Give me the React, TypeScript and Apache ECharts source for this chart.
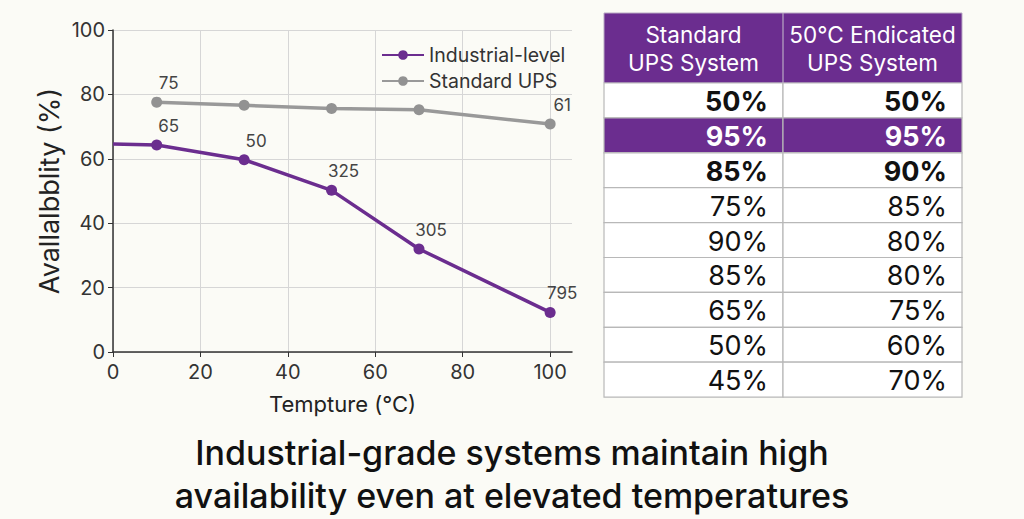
import React, { useEffect, useRef } from "react";
import * as echarts from "echarts";

const xTicks = [0, 20, 40, 60, 80, 100];
const industrialX = [0, 10, 30, 50, 70, 100];
const industrialY = [64.6, 64.3, 59.7, 50.2, 32.0, 12.3];
const industrialLabels = ["", "65", "50", "325", "305", "795"];
const standardX = [10, 30, 50, 70, 100];
const standardY = [77.6, 76.6, 75.6, 75.2, 70.8];
const standardLabels = ["75", "", "", "", "61"];

const tableHeaders = ["Standard\nUPS System", "50°C Endicated\nUPS System"];
const standardCol = ["50%", "95%", "85%", "75%", "90%", "85%", "65%", "50%", "45%"];
const endicatedCol = ["50%", "95%", "90%", "85%", "80%", "80%", "75%", "60%", "70%"];
const boldRows = [0, 1, 2];
const highlightRows = [1];

const titleLines = [
  "Industrial-grade systems maintain high",
  "availability even at elevated temperatures",
];

const PURPLE = "#6b2d8f";
const GRAY = "#999999";
const FONT = "Inter, 'Noto Sans', sans-serif";

function buildTable() {
  const left = 604;
  const top = 13;
  const colW = 179;
  const headH = 70;
  const rowH = 34.9;
  const els: any[] = [];
  const cols = [standardCol, endicatedCol];
  els.push({
    type: "rect",
    shape: { x: left, y: top, width: colW * 2, height: headH },
    style: { fill: PURPLE, stroke: "#b9a9c4", lineWidth: 1 },
  });
  tableHeaders.forEach((h, c) => {
    h.split("\n").forEach((line, li) => {
      els.push({
        type: "text",
        x: left + colW * c + colW / 2,
        y: top + 21 + li * 28,
        style: {
          text: line,
          fill: "#ffffff",
          font: `400 22.5px ${FONT}`,
          align: "center",
          verticalAlign: "middle",
        },
      });
    });
  });
  standardCol.forEach((_, r) => {
    const hl = highlightRows.includes(r);
    const bold = boldRows.includes(r);
    const y = top + headH + rowH * r;
    for (let c = 0; c < 2; c++) {
      els.push({
        type: "rect",
        shape: { x: left + colW * c, y, width: colW, height: rowH },
        style: { fill: hl ? PURPLE : "#ffffff", stroke: "#b8b8b8", lineWidth: 1.2 },
      });
      els.push({
        type: "text",
        x: left + colW * c + colW - 15,
        y: y + rowH / 2 + 1,
        style: {
          text: cols[c][r],
          fill: hl ? "#ffffff" : "#111111",
          font: `${bold ? 700 : 400} 27px ${FONT}`,
          align: "right",
          verticalAlign: "middle",
        },
      });
    }
  });
  els.push({
    type: "line",
    shape: { x1: left + colW, y1: top, x2: left + colW, y2: top + headH },
    style: { stroke: "#b9a9c4", lineWidth: 1.2 },
  });
  return els;
}

export default function App() {
  const ref = useRef<HTMLDivElement>(null);
  useEffect(() => {
    if (!ref.current) return;
    const chart = echarts.init(ref.current, undefined, { renderer: "svg" });
    const labelStyle = {
      show: true,
      position: "top",
      distance: 5,
      offset: [12, 0],
      fontSize: 17,
      color: "#444",
      fontFamily: FONT,
    };
    chart.setOption({
      animation: false,
      backgroundColor: "#fbfbf6",
      textStyle: { fontFamily: FONT },
      grid: { left: 113, right: 452, top: 30, bottom: 167, containLabel: false },
      legend: {
        orient: "vertical",
        left: 376,
        top: 40,
        itemWidth: 42,
        itemHeight: 12,
        itemGap: 6,
        textStyle: { fontSize: 19.5, color: "#333", fontFamily: FONT },
        data: ["Industrial-level", "Standard UPS"],
      },
      xAxis: {
        type: "value",
        min: 0,
        max: 105,
        interval: 20,
        name: "Tempture (°C)",
        nameLocation: "middle",
        nameGap: 41,
        nameTextStyle: { fontSize: 22, color: "#222", fontFamily: FONT },
        axisLine: { show: true, lineStyle: { color: "#333", width: 1.5 } },
        axisTick: { show: true, length: 5, customValues: xTicks, lineStyle: { color: "#333" } },
        axisLabel: { fontSize: 20, color: "#333", margin: 10, customValues: xTicks },
        splitLine: { show: true, showMaxLine: true, lineStyle: { color: "#d6d6d6", width: 1 } },
      },
      yAxis: {
        type: "value",
        min: 0,
        max: 100,
        interval: 20,
        name: "Avallalbblity (%)",
        nameLocation: "middle",
        nameGap: 50,
        nameTextStyle: { fontSize: 27, color: "#222", fontFamily: FONT },
        axisLine: { show: true, lineStyle: { color: "#333", width: 1.5 } },
        axisTick: { show: true, length: 5, lineStyle: { color: "#333" } },
        axisLabel: { fontSize: 20, color: "#333", margin: 8 },
        splitLine: { show: true, lineStyle: { color: "#d6d6d6", width: 1 } },
      },
      series: [
        {
          name: "Industrial-level",
          type: "line",
          color: PURPLE,
          symbol: "circle",
          symbolSize: 11,
          lineStyle: { width: 3.5, color: PURPLE },
          itemStyle: { color: PURPLE },
          data: industrialX.map((x, i) => ({
            value: [x, industrialY[i]],
            symbol: i === 0 ? "none" : "circle",
            label: { ...labelStyle, show: industrialLabels[i] !== "", formatter: industrialLabels[i] },
          })),
        },
        {
          name: "Standard UPS",
          type: "line",
          color: GRAY,
          symbol: "circle",
          symbolSize: 11,
          lineStyle: { width: 3.5, color: GRAY },
          itemStyle: { color: "#929292" },
          data: standardX.map((x, i) => ({
            value: [x, standardY[i]],
            label: { ...labelStyle, show: standardLabels[i] !== "", formatter: standardLabels[i] },
          })),
        },
      ],
      graphic: [
        ...buildTable(),
        ...titleLines.map((t, i) => ({
          type: "text",
          x: 512,
          y: 452 + i * 43,
          style: {
            text: t,
            fill: "#111",
            font: `500 34px ${FONT}`,
            align: "center",
            verticalAlign: "middle",
          },
        })),
      ],
    });
    return () => chart.dispose();
  }, []);
  return (
    <div
      ref={ref}
      style={{ position: "fixed", left: 0, top: 0, width: 1024, height: 519 }}
    />
  );
}
